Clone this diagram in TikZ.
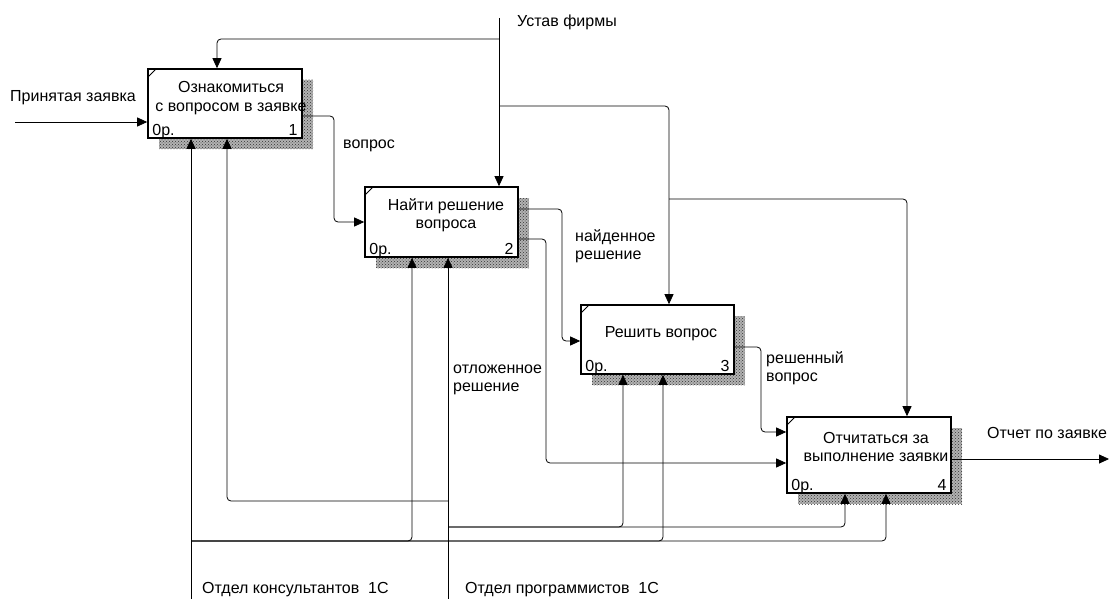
\documentclass[tikz,border=0pt]{standalone}
\usepackage{fontspec}
\setmainfont{Liberation Sans}
\usetikzlibrary{arrows.meta, patterns, shadows}
\tikzset{
  func/.style={draw, line width=1.6pt, fill=white, inner sep=0pt,
    general shadow={shadow xshift=11pt, shadow yshift=-11pt, fill=black!30},
    general shadow={shadow xshift=11pt, shadow yshift=-11pt,
      pattern=crosshatch dots, pattern color=black!80},
    path picture={\draw[line width=0.9pt] ([yshift=-8pt]path picture bounding box.north west) -- ++(8pt,8pt);}},
  edge/.style={-{Triangle[length=10pt,width=9pt]}, line width=0.8pt, rounded corners=4pt},
  lbl/.style={anchor=base west, align=left, inner sep=0pt},
  ftext/.style={anchor=base, align=center, inner sep=0pt},
  num/.style={inner sep=0pt}
}

\begin{document}
\begin{tikzpicture}[x=1pt, y=-1pt, font=\fontsize{16}{18}\selectfont]
    \useasboundingbox (0,0) rectangle (1110,599);
    % functions
    \node[func, minimum width=154pt, minimum height=69pt] (b1) at (225,103.5) {};
    \node[func, minimum width=153pt, minimum height=70pt] (b2) at (441.5,222) {};
    \node[func, minimum width=153pt, minimum height=69pt] (b3) at (657.5,339.5) {};
    \node[func, minimum width=164pt, minimum height=76pt] (b4) at (869,455) {};
    % base = last line
    \node[ftext] (t1) at (231,111) {Ознакомиться\\с вопросом в заявке};
    \node[ftext] (t2) at (446,228) {Найти решение\\вопроса};
    \node[ftext] (t3) at (661,337) {Решить вопрос};
    \node[ftext] (t4) at (876,461) {Отчитаться за\\выполнение заявки};
    \foreach \b/\n in {b1/1, b2/2, b3/3, b4/4} {
      \node[num, anchor=base west] at ([shift={(5,-3)}]\b.south west) {0р.};
      \node[num, anchor=base east] at ([shift={(-5,-3)}]\b.south east) {\n};
    }
    % inputs and outputs
    \coordinate (src) at (15,122);
    \draw[edge] (src) -- (src -| b1.west);
    \node[lbl] (lin) at (10,102) {Принятая заявка};
    \draw[edge] (b1.east |- 0,116) -- (334,116) |- (b2.west |- 0,222);
    \node[lbl] (lq) at (343,148) {вопрос};
    \draw[edge] (b2.east |- 0,209) -- (562,209) |- (b3.west |- 0,341);
    \draw[edge] (b2.east |- 0,239) -- (546,239) |- (b4.west |- 0,463);
    \node[lbl] (lfound) at (575,259) {найденное\\решение};
    \draw[edge] (b3.east |- 0,347) -- (761,347) |- (b4.west |- 0,432);
    \node[lbl] (lsolved) at (766,381) {решенный\\вопрос};
    \coordinate (sink) at (1109,459);
    \draw[edge] (b4.east |- sink) -- (sink);
    \node[lbl] (lout) at (987,438) {Отчет по заявке};
    % controls
    \coordinate (ustav) at (499,18);
    \node[lbl] (lustav) at (517,27) {Устав фирмы};
    \draw[edge] (ustav) -- (ustav |- b2.north);
    \draw[edge] (ustav |- 0,39) -| (b1.north -| 217,0);
    \draw[edge] (ustav |- 0,106) -| (b3.north -| 669,0);
    \draw[edge] (669,199) -| (b4.north -| 907,0);
    % mechanisms
    \coordinate (kons) at (191,599);
    \coordinate (prog) at (448,599);
    \node[lbl] (lkons) at (202,593) {Отдел консультантов~~1С};
    \node[lbl] (lprog) at (465,593) {Отдел программистов~~1С};
    \node[lbl] (ldelay) at (453,391) {отложенное\\решение};
    \draw[edge] (kons) -- (kons |- b1.south);
    \draw[edge] (kons |- 0,541) -| (b2.south -| 412,0);
    \draw[edge] (kons |- 0,541) -| (b3.south -| 663,0);
    \draw[edge] (kons |- 0,541) -| (b4.south -| 886,0);
    \draw[edge] (prog) -- (prog |- b2.south);
    \draw[edge] (prog |- 0,501) -| (b1.south -| 227,0);
    \draw[edge] (prog |- 0,527) -| (b3.south -| 623,0);
    \draw[edge] (prog |- 0,527) -| (b4.south -| 845,0);
\end{tikzpicture}
\end{document}
